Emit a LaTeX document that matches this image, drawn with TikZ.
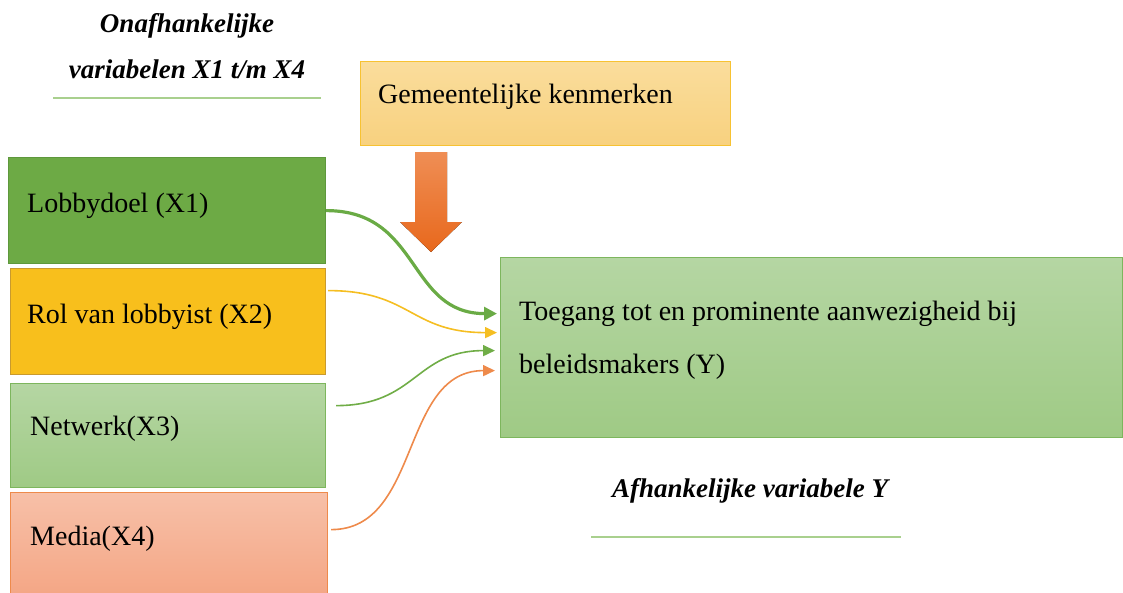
\documentclass[tikz,border=0pt]{standalone}
\usepackage{fontspec}
\setmainfont{Liberation Serif}
\usetikzlibrary{arrows.meta}
\definecolor{gmTop}{HTML}{FADD9C}
\definecolor{gmBot}{HTML}{F8D17F}
\definecolor{gmLine}{HTML}{F7C232}
\definecolor{arTop}{HTML}{EF8E55}
\definecolor{arBot}{HTML}{E8681C}
\definecolor{xaFill}{HTML}{6DAA45}
\definecolor{xaLine}{HTML}{5E983C}
\definecolor{xbFill}{HTML}{F8BF1C}
\definecolor{xbLine}{HTML}{C99A2E}
\definecolor{gTop}{HTML}{B5D6A3}
\definecolor{gBot}{HTML}{9FCA85}
\definecolor{gLine}{HTML}{7DB65D}
\definecolor{mTop}{HTML}{F7C0A8}
\definecolor{mBot}{HTML}{F4A482}
\definecolor{mLine}{HTML}{EE8A4B}
\definecolor{cGreen}{HTML}{6AAB45}
\definecolor{cYellow}{HTML}{F5BE22}
\definecolor{cGreenB}{HTML}{70AD47}
\definecolor{cOrange}{HTML}{EE8A4B}
\definecolor{hLine}{HTML}{A9D08E}
\tikzset{
  boxnode/.style={rectangle, anchor=north west, inner sep=0pt, line width=1.2pt},
  lbl/.style={anchor=base west, inner sep=0pt, font=\fontsize{28}{33}\selectfont},
  headtxt/.style={anchor=base, inner sep=0pt, font=\fontsize{27}{32}\selectfont\bfseries\itshape},
  conn/.style={line width=1.6pt, -{Triangle[length=12pt,width=11pt]}},
  hrule/.style={draw=hLine, line width=1.5pt},
}
\begin{document}
\begin{tikzpicture}[x=1pt,y=-1pt]
\useasboundingbox (0,0) rectangle (1123,592);
% headings
\node[headtxt] (h1) at (187,32) {Onafhankelijke};
\node[headtxt] (h2) at (187,78) {variabelen X1 t/m X4};
\draw[hrule] (53,98) -- (321,98);
\node[headtxt] (h3) at (750,497) {Afhankelijke variabele Y};
\draw[hrule] (591,537) -- (901,537);
% moderator box
\node[boxnode, draw=gmLine, top color=gmTop, bottom color=gmBot, minimum width=370, minimum height=84] (gm) at (360,61) {};
\node[lbl] (gmt) at (378,103) {Gemeentelijke kenmerken};
% big arrow
\fill[top color=arTop, bottom color=arBot] (415,152) -- (447,152) -- (447,222) -- (462,222) -- (431,252) -- (400,222) -- (415,222) -- cycle;
% independent variable boxes
\node[boxnode, draw=xaLine, fill=xaFill, minimum width=317, minimum height=106] (x1) at (8,157) {};
\node[lbl] (x1t) at (27,212) {Lobbydoel (X1)};
\node[boxnode, draw=xbLine, fill=xbFill, minimum width=315, minimum height=106] (x2) at (10,268) {};
\node[lbl] (x2t) at (27,323) {Rol van lobbyist (X2)};
\node[boxnode, draw=gLine, top color=gTop, bottom color=gBot, minimum width=315, minimum height=104] (x3) at (10,383) {};
\node[lbl] (x3t) at (30,435) {Netwerk(X3)};
\node[boxnode, draw=mLine, top color=mTop, bottom color=mBot, minimum width=317, minimum height=112] (x4) at (10,492) {};
\node[lbl] (x4t) at (30,545) {Media(X4)};
% dependent variable box
\node[boxnode, draw=gLine, top color=gTop, bottom color=gBot, minimum width=622, minimum height=180] (y) at (500,257) {};
\node[lbl] (yt1) at (519,320) {Toegang tot en prominente aanwezigheid bij};
\node[lbl] (yt2) at (519,373) {beleidsmakers (Y)};
% connectors
\draw[conn, draw=cGreen, line width=3.2pt, -{Triangle[length=13pt,width=13pt]}] (x1.east) .. controls +(95,0) and +(-90,0) .. ([xshift=-3,yshift=34]y.west);
\draw[conn, draw=cYellow] ([xshift=2,yshift=31]x2.east) .. controls +(83,0) and +(-87,0) .. ([xshift=-3,yshift=15]y.west);
\draw[conn, draw=cGreenB] ([xshift=10,yshift=30]x3.east) .. controls +(80,0) and +(-80,0) .. ([xshift=-5,yshift=-3]y.west);
\draw[conn, draw=cOrange] ([xshift=3,yshift=19]x4.east) .. controls +(90,0) and +(-95,0) .. ([xshift=-5,yshift=-23]y.west);
\end{tikzpicture}
\end{document}
